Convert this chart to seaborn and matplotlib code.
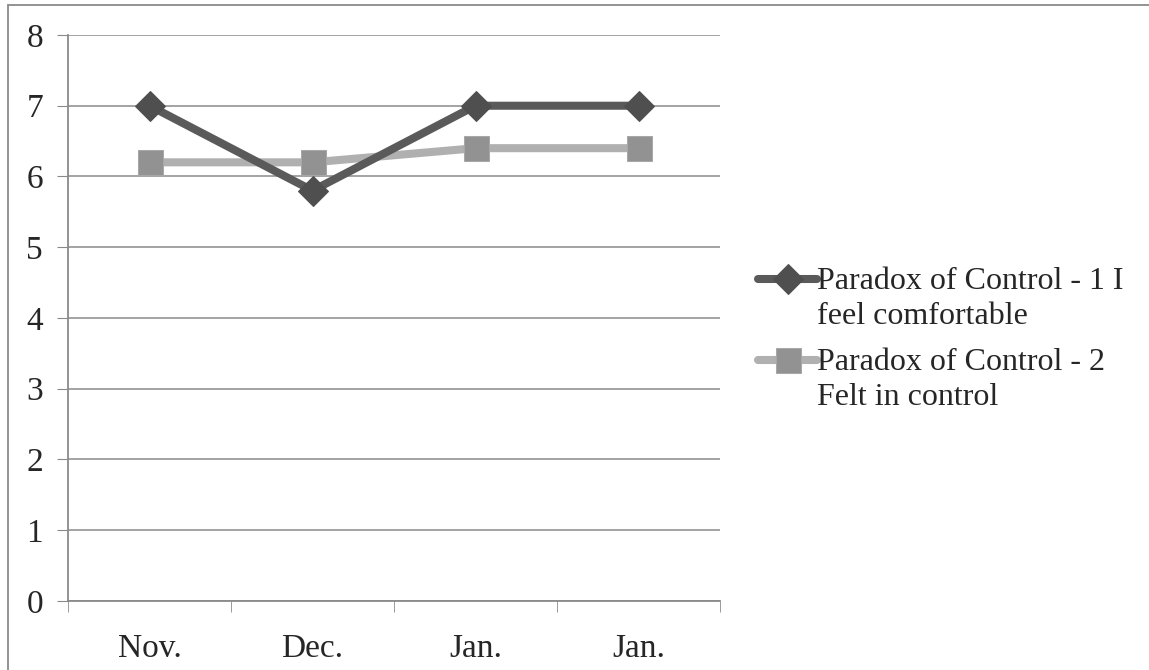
import seaborn as sns
import matplotlib.pyplot as plt
import pandas as pd
from matplotlib.lines import Line2D
from matplotlib.legend_handler import HandlerLine2D

sns.set_style('white')
plt.rcParams['font.family'] = ['Liberation Serif', 'DejaVu Serif']

months = ['Nov.', 'Dec.', 'Jan.', 'Jan.']
comfortable = [7, 5.8, 7, 7]
in_control = [6.2, 6.2, 6.4, 6.4]
label1 = 'Paradox of Control - 1 I\nfeel comfortable'
label2 = 'Paradox of Control - 2\nFelt in control'

df = pd.DataFrame({'pos': range(len(months)), 'month': months,
                   's1': comfortable, 's2': in_control})


class TopLineHandler(HandlerLine2D):
    # put the legend symbol next to the first text line, like Excel does
    def create_artists(self, legend, orig_handle, xdescent, ydescent,
                       width, height, fontsize, trans):
        shift = 0.62 * fontsize
        return super().create_artists(legend, orig_handle, xdescent,
                                      ydescent - 2 * shift, width, height,
                                      fontsize, trans)


fig = plt.figure(figsize=(11.49, 6.7), dpi=100)
ax = fig.add_axes([0.0592, 0.103, 0.5675, 0.8448])

sns.lineplot(data=df, x='pos', y='s1', ax=ax, color='#5a5a5a', lw=5.8,
             marker='D', markersize=15, markerfacecolor='#4f4f4f',
             markeredgecolor='#4f4f4f', label=label1, zorder=4)
sns.lineplot(data=df, x='pos', y='s2', ax=ax, color='#b0b0b0', lw=5.8,
             marker='s', markersize=18, markerfacecolor='#929292',
             markeredgecolor='#a8a8a8', label=label2, zorder=3)

ax.set_xlim(-0.5, len(months) - 0.5)
ax.set_ylim(0, 8)
ax.set_yticks(range(0, 9))
ax.set_xticks(df['pos'])
ax.set_xticklabels(months)
ax.set_xticks([i - 0.5 for i in range(len(months) + 1)], minor=True)
ax.set_xlabel('')
ax.set_ylabel('')
ax.grid(axis='y', color='#8a8a8a', lw=1.1)
ax.set_axisbelow(True)
for s in ['top', 'right']:
    ax.spines[s].set_visible(False)
for s in ['left', 'bottom']:
    ax.spines[s].set_color('#8a8a8a')
    ax.spines[s].set_linewidth(1.3)
ax.tick_params(axis='y', which='major', left=True, length=8, color='#8a8a8a',
               labelsize=24, pad=10)
ax.tick_params(axis='x', which='major', bottom=False, labelsize=24, pad=20)
ax.tick_params(axis='x', which='minor', bottom=True, length=8, color='#8a8a8a')

ax.legend_.remove()
handles, labels = ax.get_legend_handles_labels()
leg = fig.legend(handles, labels, loc='center left',
                 bbox_to_anchor=(0.635, 0.493), frameon=False, fontsize=23,
                 handlelength=1.85, handletextpad=0.0, labelspacing=0.55,
                 numpoints=1, handler_map={Line2D: TopLineHandler()})
for t in leg.get_texts():
    t.set_linespacing(1.25)

# outer border (left and top edges visible)
fig.add_artist(Line2D([8 / 1149, 8 / 1149], [0, 1 - 5 / 670], color='#8a8a8a', lw=1.3))
fig.add_artist(Line2D([8 / 1149, 1], [1 - 5 / 670, 1 - 5 / 670], color='#8a8a8a', lw=1.3))

fig.savefig('out.png', dpi=100)
